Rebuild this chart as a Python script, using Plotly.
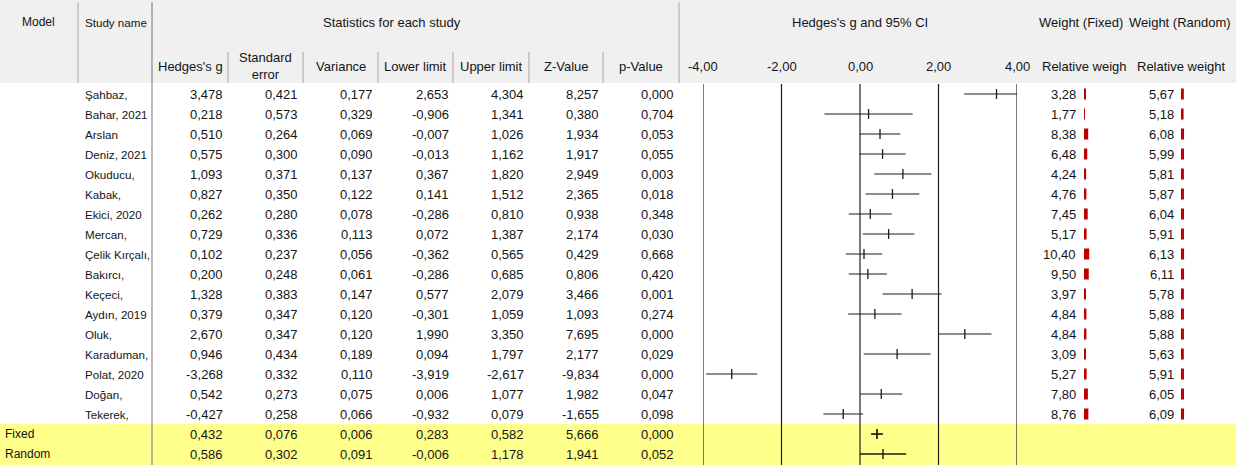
import plotly.graph_objects as go

# ---------------- data ----------------
studies = ["Şahbaz,", "Bahar, 2021", "Arslan", "Deniz, 2021", "Okuducu,", "Kabak,",
           "Ekici, 2020", "Mercan,", "Çelik Kırçalı,", "Bakırcı,", "Keçeci,",
           "Aydın, 2019", "Oluk,", "Karaduman,", "Polat, 2020", "Doğan,", "Tekerek,"]
hedges_g = [3.478, 0.218, 0.510, 0.575, 1.093, 0.827, 0.262, 0.729, 0.102, 0.200,
            1.328, 0.379, 2.670, 0.946, -3.268, 0.542, -0.427]
std_err = [0.421, 0.573, 0.264, 0.300, 0.371, 0.350, 0.280, 0.336, 0.237, 0.248,
           0.383, 0.347, 0.347, 0.434, 0.332, 0.273, 0.258]
variance = [0.177, 0.329, 0.069, 0.090, 0.137, 0.122, 0.078, 0.113, 0.056, 0.061,
            0.147, 0.120, 0.120, 0.189, 0.110, 0.075, 0.066]
lower_limit = [2.653, -0.906, -0.007, -0.013, 0.367, 0.141, -0.286, 0.072, -0.362, -0.286,
               0.577, -0.301, 1.990, 0.094, -3.919, 0.006, -0.932]
upper_limit = [4.304, 1.341, 1.026, 1.162, 1.820, 1.512, 0.810, 1.387, 0.565, 0.685,
               2.079, 1.059, 3.350, 1.797, -2.617, 1.077, 0.079]
z_value = [8.257, 0.380, 1.934, 1.917, 2.949, 2.365, 0.938, 2.174, 0.429, 0.806,
           3.466, 1.093, 7.695, 2.177, -9.834, 1.982, -1.655]
p_value = [0.000, 0.704, 0.053, 0.055, 0.003, 0.018, 0.348, 0.030, 0.668, 0.420,
           0.001, 0.274, 0.000, 0.029, 0.000, 0.047, 0.098]
weight_fixed = [3.28, 1.77, 8.38, 6.48, 4.24, 4.76, 7.45, 5.17, 10.40, 9.50,
                3.97, 4.84, 4.84, 3.09, 5.27, 7.80, 8.76]
weight_random = [5.67, 5.18, 6.08, 5.99, 5.81, 5.87, 6.04, 5.91, 6.13, 6.11,
                 5.78, 5.88, 5.88, 5.63, 5.91, 6.05, 6.09]

models = ["Fixed", "Random"]
sum_g = [0.432, 0.586]
sum_se = [0.076, 0.302]
sum_var = [0.006, 0.091]
sum_lower = [0.283, -0.006]
sum_upper = [0.582, 1.178]
sum_z = [5.666, 1.941]
sum_p = [0.000, 0.052]

forest_ticks = [-4, -2, 0, 2, 4]
col_headers = ["Hedges's g", "Standard<br>error", "Variance", "Lower limit",
               "Upper limit", "Z-Value", "p-Value"]

# ---------------- layout constants (pixels) ----------------
W, H = 1236, 467
ROW0, ROWH = 94, 20          # centre of first row, row height


def r(py):                   # pixel y -> row coordinate
    return (py - ROW0) / ROWH


FONT = "Liberation Sans, Arial, sans-serif"
FS = 13
FS_NAME = 11.6
TXT = "#141414"
num_right = [225, 300, 375, 451, 526, 601, 676]
col_div = [228, 303, 378, 453, 529, 603]
col_centres = [190, 265.5, 340.5, 415.5, 491, 566, 641]
forest_l, forest_r = 703, 1017
wf_num_right, wf_bar_left = 1078, 1084
wr_num_right, wr_bar_left = 1176, 1181
BAR_PX = 30                  # pixel width of weight bar axes
BAR_RANGE = 60               # weight units across BAR_PX


def fmt(v, d=3):
    return f"{v:.{d}f}".replace(".", ",")


fig = go.Figure()
# main (pixel) axes placeholder
fig.add_trace(go.Scatter(x=[0], y=[0], mode="markers", marker=dict(opacity=0),
                         hoverinfo="skip", xaxis="x", yaxis="y"))

n = len(studies)
rows = list(range(n))
sum_rows = [n, n + 1]

ann = []


def add(text, x, y, anchor="center", xref="x", size=FS):
    ann.append(dict(text=text, x=x, y=y, xref=xref, yref="y", xanchor=anchor,
                    yanchor="middle", showarrow=False,
                    font=dict(family=FONT, size=size, color=TXT)))


# table body
cols = [hedges_g, std_err, variance, lower_limit, upper_limit, z_value, p_value]
scols = [sum_g, sum_se, sum_var, sum_lower, sum_upper, sum_z, sum_p]
for i in rows:
    add(studies[i], 83, i, "left", size=FS_NAME)
    for c, xr in zip(cols, num_right):
        add(fmt(c[i]), xr, i, "right")
    add(fmt(weight_fixed[i], 2), wf_num_right, i, "right")
    add(fmt(weight_random[i], 2), wr_num_right, i, "right")
for k, i in enumerate(sum_rows):
    add(models[k], 3, i, "left", size=12)
    for c, xr in zip(scols, num_right):
        add(fmt(c[k]), xr, i, "right")

# headers
add("Model", 38, r(22), size=12)
add("Study name", 116, r(22), size=FS_NAME)
add("Statistics for each study", 392, r(22))
add("Hedges's g and 95% CI", 0, r(22), xref="x2")
add("Weight (Fixed)", 1081, r(22))
add("Weight (Random)", 1180, r(22))
for h, cx in zip(col_headers, col_centres):
    add(h, cx, r(66))
for t in forest_ticks:
    add(fmt(t, 2), t, r(66), xref="x2")
add("Relative weigh", 1084, r(66))
add("Relative weight", 1181, r(66))

# shapes
shapes = []
shapes.append(dict(type="rect", xref="x", yref="y", x0=0, x1=W, y0=r(0), y1=r(83),
                   fillcolor="#f0f0f0", line=dict(width=0), layer="below"))
shapes.append(dict(type="rect", xref="x", yref="y", x0=0, x1=W, y0=r(424), y1=r(465),
                   fillcolor="#ffff8c", line=dict(width=0), layer="below"))
# header dividers
for x0, y0, y1, col in [(78, 2, 83, "#b4b4b4"), (679, 2, 83, "#b4b4b4"),
                        (152, 2, 465, "#8a8a8a")]:
    shapes.append(dict(type="line", xref="x", yref="y", x0=x0, x1=x0, y0=r(y0), y1=r(y1),
                       line=dict(color=col, width=1.2), layer="below"))
for xd in col_div:
    shapes.append(dict(type="line", xref="x", yref="y", x0=xd, x1=xd, y0=r(52), y1=r(83),
                       line=dict(color="#b4b4b4", width=1.2), layer="below"))
# forest reference lines
for t in forest_ticks:
    shapes.append(dict(type="line", xref="x2", yref="y", x0=t, x1=t, y0=r(84), y1=r(465),
                       line=dict(color="#202020", width=1.2), layer="below"))

# forest CIs
cx, cy = [], []
for i in rows:
    cx += [lower_limit[i], upper_limit[i], None]
    cy += [i, i, None]
fig.add_trace(go.Scatter(x=cx, y=cy, mode="lines", line=dict(color="#1a1a1a", width=1.2),
                         xaxis="x2", yaxis="y", hoverinfo="skip"))
fig.add_trace(go.Scatter(x=hedges_g, y=rows, mode="markers",
                         marker=dict(symbol="line-ns", size=7,
                                     line=dict(color="#1a1a1a", width=1.3)),
                         xaxis="x2", yaxis="y", cliponaxis=True))
for k, i in enumerate(sum_rows):
    lw = 1.7 if k == 0 else 1.4
    fig.add_trace(go.Scatter(x=[sum_lower[k], sum_upper[k]], y=[i, i], mode="lines",
                             line=dict(color="#1a1a1a", width=lw), xaxis="x2", yaxis="y"))
    fig.add_trace(go.Scatter(x=[sum_g[k]], y=[i], mode="markers",
                             marker=dict(symbol="line-ns", size=7,
                                         line=dict(color="#1a1a1a", width=lw)),
                             xaxis="x2", yaxis="y"))

# weight bars
fig.add_trace(go.Bar(x=weight_fixed, y=rows, orientation="h", base=0, width=0.55,
                     marker=dict(color="#c00000", line=dict(width=0)),
                     xaxis="x3", yaxis="y"))
fig.add_trace(go.Bar(x=weight_random, y=rows, orientation="h", base=0, width=0.55,
                     marker=dict(color="#c00000", line=dict(width=0)),
                     xaxis="x4", yaxis="y"))

hidden = dict(visible=False, showgrid=False, zeroline=False, fixedrange=True)
fig.update_layout(
    width=W, height=H, margin=dict(l=0, r=0, t=0, b=0),
    paper_bgcolor="white", plot_bgcolor="rgba(0,0,0,0)",
    showlegend=False, barmode="overlay",
    xaxis=dict(range=[0, W], domain=[0, 1], **hidden),
    yaxis=dict(range=[r(H), r(0)], domain=[0, 1], **hidden),
    xaxis2=dict(range=[-4, 4], domain=[forest_l / W, forest_r / W], anchor="y", **hidden),
    xaxis3=dict(range=[0, BAR_RANGE], domain=[wf_bar_left / W, (wf_bar_left + BAR_PX) / W],
                anchor="y", **hidden),
    xaxis4=dict(range=[0, BAR_RANGE], domain=[wr_bar_left / W, (wr_bar_left + BAR_PX) / W],
                anchor="y", **hidden),
    annotations=ann, shapes=shapes,
)

fig.write_html("out.html", config={"displayModeBar": False},
               post_script="document.body.style.margin='0';document.body.style.overflow='hidden';")
